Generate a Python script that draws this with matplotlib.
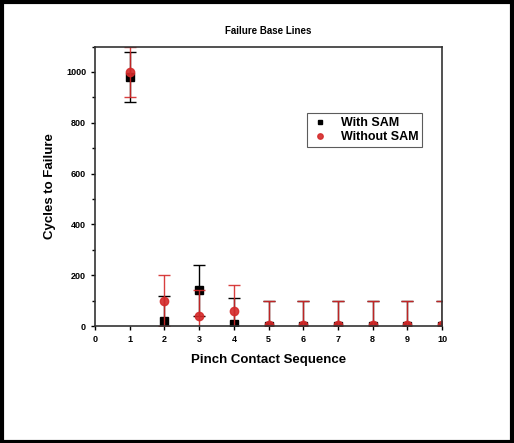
import matplotlib.pyplot as plt
from matplotlib.ticker import MultipleLocator
from matplotlib.patches import Rectangle

plt.rcParams['font.family'] = ['Liberation Sans', 'DejaVu Sans']
plt.rcParams['font.weight'] = 'bold'

# Pinch contact sequence
seq = [1, 2, 3, 4, 5, 6, 7, 8, 9, 10]

# With SAM
with_sam = [980, 20, 140, 10, 0, 0, 0, 0, 0, 0]
with_sam_err = [100, 100, 100, 100, 100, 100, 100, 100, 100, 100]

# Without SAM
without_sam = [1000, 100, 40, 60, 5, 5, 5, 5, 5, 5]
without_sam_err = [100, 100, 100, 100, 95, 95, 95, 95, 95, 95]

red = '#d42a2a'

fig = plt.figure(figsize=(5.14, 4.43), dpi=100)
ax = fig.add_axes([0.185, 0.264, 0.675, 0.631])

ax.errorbar(seq, with_sam, yerr=with_sam_err, fmt='s', color='black',
            ms=5.5, capsize=4, elinewidth=1, capthick=1, label='With SAM',
            zorder=3)
ax.errorbar(seq, without_sam, yerr=without_sam_err, fmt='o', color=red,
            ms=6, capsize=4, elinewidth=1, capthick=1, label='Without SAM',
            zorder=4, alpha=0.9)

ax.set_xlim(0, 10)
ax.set_ylim(0, 1100)
ax.xaxis.set_major_locator(MultipleLocator(1))
ax.yaxis.set_major_locator(MultipleLocator(200))
ax.yaxis.set_minor_locator(MultipleLocator(100))
ax.tick_params(axis='both', which='major', labelsize=6.5, length=3, width=1)
ax.tick_params(axis='y', which='minor', length=2, width=1)
for s in ax.spines.values():
    s.set_linewidth(1.2)
    s.set_color('#333333')
    s.set_zorder(5)

ax.set_title('Failure Base Lines', fontsize=7, fontweight='bold', pad=9)
ax.set_xlabel('Pinch Contact Sequence', fontsize=9.5, fontweight='bold', labelpad=7)
ax.set_ylabel('Cycles to Failure', fontsize=9.5, fontweight='bold', labelpad=7)

handles, labels = ax.get_legend_handles_labels()
handles = [h[0] for h in handles]
leg = ax.legend(handles, labels, loc='upper left', bbox_to_anchor=(0.593, 0.783),
                fontsize=9, frameon=True, fancybox=False, edgecolor='#333333',
                markerscale=0.65, handlelength=1.4, borderpad=0.3,
                labelspacing=0.15, handletextpad=1.0)
leg.get_frame().set_linewidth(0.8)

fig.patches.append(Rectangle((0.003, 0.003), 0.994, 0.992, transform=fig.transFigure,
                             fill=False, edgecolor='black', linewidth=3))

fig.savefig('out.png', dpi=100)
